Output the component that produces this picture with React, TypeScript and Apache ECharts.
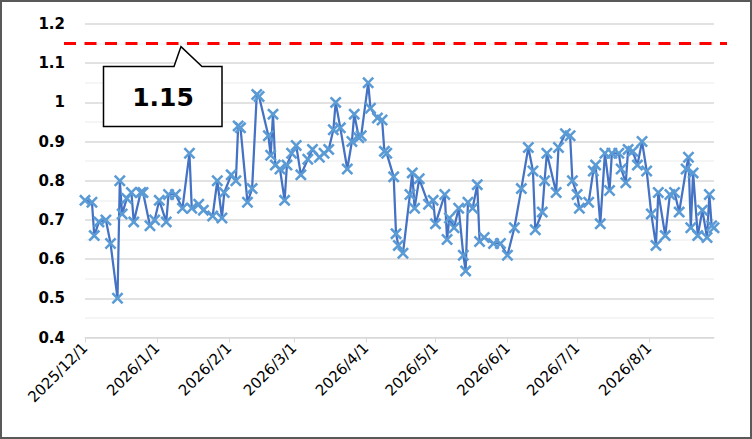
import { useEffect, useRef } from 'react';
import * as echarts from 'echarts';

// 観測日 (Excel の日付軸を日単位のカテゴリで再現)
const pointDates = [
  '2025/12/1', '2025/12/4', '2025/12/5', '2025/12/7', '2025/12/10', '2025/12/12', '2025/12/15', '2025/12/16',
  '2025/12/17', '2025/12/19', '2025/12/21', '2025/12/22', '2025/12/25', '2025/12/26', '2025/12/29', '2025/12/31',
  '2026/1/2', '2026/1/5', '2026/1/6', '2026/1/9', '2026/1/12', '2026/1/15', '2026/1/16', '2026/1/19',
  '2026/1/21', '2026/1/25', '2026/1/27', '2026/1/29', '2026/1/30', '2026/2/2', '2026/2/4', '2026/2/5',
  '2026/2/6', '2026/2/9', '2026/2/11', '2026/2/13', '2026/2/14', '2026/2/18', '2026/2/19', '2026/2/20',
  '2026/2/21', '2026/2/23', '2026/2/25', '2026/2/26', '2026/2/28', '2026/3/2', '2026/3/4', '2026/3/7',
  '2026/3/9', '2026/3/12', '2026/3/14', '2026/3/16', '2026/3/18', '2026/3/19', '2026/3/21', '2026/3/24',
  '2026/3/26', '2026/3/27', '2026/3/29', '2026/3/30', '2026/4/2', '2026/4/3', '2026/4/6', '2026/4/8',
  '2026/4/9', '2026/4/10', '2026/4/13', '2026/4/14', '2026/4/15', '2026/4/17', '2026/4/20', '2026/4/21',
  '2026/4/22', '2026/4/24', '2026/4/28', '2026/4/30', '2026/5/1', '2026/5/5', '2026/5/6', '2026/5/7',
  '2026/5/9', '2026/5/11', '2026/5/13', '2026/5/14', '2026/5/15', '2026/5/17', '2026/5/19', '2026/5/20',
  '2026/5/22', '2026/5/26', '2026/5/29', '2026/6/1', '2026/6/4', '2026/6/7', '2026/6/10', '2026/6/12',
  '2026/6/13', '2026/6/16', '2026/6/17', '2026/6/18', '2026/6/22', '2026/6/23', '2026/6/26', '2026/6/28',
  '2026/6/29', '2026/7/1', '2026/7/2', '2026/7/6', '2026/7/8', '2026/7/9', '2026/7/11', '2026/7/13',
  '2026/7/15', '2026/7/16', '2026/7/19', '2026/7/20', '2026/7/22', '2026/7/23', '2026/7/25', '2026/7/27',
  '2026/7/29', '2026/7/31', '2026/8/2', '2026/8/4', '2026/8/5', '2026/8/8', '2026/8/10', '2026/8/12',
  '2026/8/14', '2026/8/17', '2026/8/18', '2026/8/19', '2026/8/20', '2026/8/22', '2026/8/24', '2026/8/26',
  '2026/8/27', '2026/8/28', '2026/8/29',
];

const pointValues = [
  0.75, 0.745, 0.66, 0.695, 0.7, 0.64, 0.5, 0.8,
  0.715, 0.755, 0.77, 0.695, 0.77, 0.77, 0.685, 0.7,
  0.75, 0.695, 0.765, 0.765, 0.73, 0.87, 0.73, 0.74,
  0.725, 0.71, 0.8, 0.705, 0.77, 0.815, 0.8, 0.94,
  0.935, 0.745, 0.78, 1.02, 1.015, 0.915, 0.865, 0.97,
  0.84, 0.83, 0.75, 0.84, 0.87, 0.89, 0.815, 0.855,
  0.88, 0.86, 0.87, 0.88, 0.93, 1.0, 0.935, 0.83,
  0.9, 0.97, 0.91, 0.915, 1.05, 0.985, 0.96, 0.955,
  0.875, 0.87, 0.81, 0.665, 0.635, 0.615, 0.765, 0.82,
  0.73, 0.805, 0.74, 0.75, 0.69, 0.765, 0.65, 0.705,
  0.68, 0.73, 0.61, 0.57, 0.745, 0.73, 0.79, 0.645,
  0.655, 0.64, 0.64, 0.61, 0.68, 0.78, 0.885, 0.825,
  0.675, 0.72, 0.8, 0.87, 0.77, 0.885, 0.92, 0.915,
  0.8, 0.765, 0.73, 0.745, 0.825, 0.84, 0.69, 0.87,
  0.775, 0.87, 0.87, 0.83, 0.795, 0.88, 0.875, 0.84,
  0.9, 0.825, 0.715, 0.635, 0.77, 0.66, 0.765, 0.77,
  0.72, 0.83, 0.86, 0.68, 0.82, 0.66, 0.725, 0.655,
  0.765, 0.685, 0.68,
];

const axisStart = Date.UTC(2025, 11, 1);
const axisEnd = Date.UTC(2026, 7, 29);
const yMin = 0.4;
const yMax = 1.2;
const yStep = 0.1;
const targetValue = 1.15;

const axisDays: string[] = [];
for (let t = axisStart; t <= axisEnd; t += 86400000) {
  const d = new Date(t);
  axisDays.push(`${d.getUTCFullYear()}/${d.getUTCMonth() + 1}/${d.getUTCDate()}`);
}

const isMonthStart = (day: string) => day.split('/')[2] === '1';

const crossSymbol =
  'path://M0,1.5L1.5,0L5,3.5L8.5,0L10,1.5L6.5,5L10,8.5L8.5,10L5,6.5L1.5,10L0,8.5L3.5,5Z';

export default function App() {
  const chartRef = useRef<HTMLDivElement>(null);

  useEffect(() => {
    if (!chartRef.current) return;
    const chart = echarts.init(chartRef.current, undefined, { renderer: 'svg' });

    const seriesData = axisDays.map((day) => {
      const i = pointDates.indexOf(day);
      return i >= 0 ? pointValues[i] : null;
    });

    chart.setOption({
      animation: false,
      backgroundColor: '#fff',
      grid: {
        left: 85,
        right: 38,
        top: 24,
        bottom: 101.5,
        containLabel: false,
        outerBoundsMode: 'none',
      },
      xAxis: {
        type: 'category',
        data: axisDays,
        boundaryGap: false,
        axisLine: { lineStyle: { color: '#d9d9d9', width: 1 } },
        axisTick: {
          show: true,
          length: 5,
          interval: (_i: number, v: string) => isMonthStart(v),
          lineStyle: { color: '#d9d9d9' },
        },
        axisLabel: {
          interval: (_i: number, v: string) => isMonthStart(v),
          rotate: 45,
          margin: 8,
          color: '#000',
          fontFamily: 'DejaVu Sans',
          fontSize: 15,
        },
        splitLine: { show: false },
      },
      yAxis: {
        type: 'value',
        min: yMin,
        max: yMax,
        interval: yStep,
        axisLine: { show: false },
        axisTick: { show: false },
        axisLabel: {
          margin: 20,
          color: '#000',
          fontFamily: 'DejaVu Sans',
          fontWeight: 'bold',
          fontSize: 15,
        },
        splitLine: { lineStyle: { color: '#d9d9d9', width: 1.5 } },
        minorTick: { show: false, splitNumber: 2 },
        minorSplitLine: { show: true, lineStyle: { color: '#f2f2f2', width: 1.5 } },
      },
      series: [
        {
          type: 'line',
          data: seriesData,
          connectNulls: true,
          showAllSymbol: true,
          symbol: crossSymbol,
          symbolSize: 12,
          symbolKeepAspect: true,
          lineStyle: { color: '#4472C4', width: 2.25 },
          itemStyle: { color: '#5B9BD5' },
        },
      ],
    });

    const lineY = chart.convertToPixel({ yAxisIndex: 0 }, targetValue) as number;
    const boxTop = lineY + 23;
    chart.setOption({
      graphic: [
        {
          type: 'line',
          shape: { x1: 64, y1: lineY, x2: 727, y2: lineY },
          style: { stroke: '#ff0000', lineWidth: 3, lineDash: [12, 8.5] },
          z: 10,
        },
        {
          type: 'polygon',
          shape: {
            points: [
              [103.5, boxTop],
              [174, boxTop],
              [181, lineY + 3],
              [202, boxTop],
              [222, boxTop],
              [222, boxTop + 60],
              [103.5, boxTop + 60],
            ],
          },
          style: { fill: '#fff', stroke: '#000', lineWidth: 1.5 },
          z: 11,
        },
        {
          type: 'text',
          x: 163,
          y: boxTop + 31,
          style: {
            text: '1.15',
            fill: '#000',
            font: 'bold 25px "DejaVu Sans"',
            align: 'center',
            verticalAlign: 'middle',
          },
          z: 12,
        },
        {
          type: 'rect',
          shape: { x: 1, y: 1, width: 750, height: 437 },
          style: { fill: 'none', stroke: '#595959', lineWidth: 2 },
          z: 12,
        },
      ],
    });

    return () => {
      chart.dispose();
    };
  }, []);

  return (
    <div
      ref={chartRef}
      style={{ position: 'fixed', left: 0, top: 0, width: 752, height: 439 }}
    />
  );
}
